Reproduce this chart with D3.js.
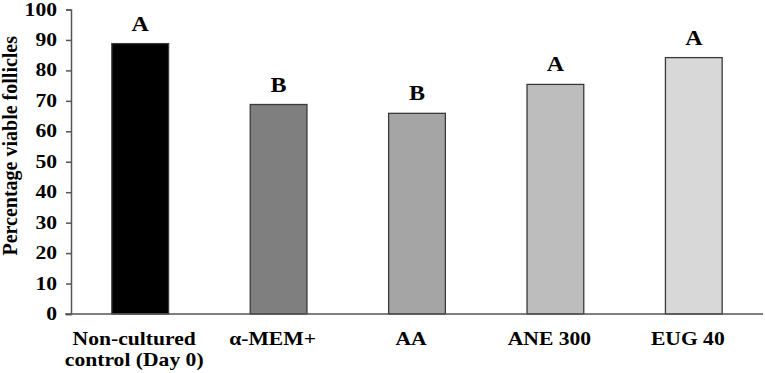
<!DOCTYPE html>
<html>
<head>
<meta charset="utf-8">
<script src="https://cdn.jsdelivr.net/npm/d3@7"></script>
<style>
  body { margin: 0; background: #fff; }
</style>
</head>
<body>
<div id="chart"></div>
<script>
const categories = ["Non-cultured\ncontrol (Day 0)", "α-MEM+", "AA", "ANE 300", "EUG 40"];
const values = [88.8, 68.8, 65.9, 75.4, 84.2];
const letters = ["A", "B", "B", "A", "A"];
const barColors = ["#000000", "#7f7f7f", "#a5a5a5", "#bdbdbd", "#d8d8d8"];
const yTicks = [0, 10, 20, 30, 40, 50, 60, 70, 80, 90, 100];

const width = 765, height = 373, margin = { top: 9.5, right: 2, bottom: 59, left: 71 };
const serif = "'Liberation Serif', 'Times New Roman', serif";
const stretch = 1.2; // text in the source is wider than it is tall

const svg = d3.select("#chart")
    .append("svg")
    .attr("width", width)
    .attr("height", height);

const x = d3.scaleBand()
    .domain(categories)
    .range([margin.left, width - margin.right])
    .paddingInner(0.59)
    .paddingOuter(0.295);

const y = d3.scaleLinear()
    .domain([0, 100])
    .range([height - margin.bottom, margin.top]);

svg.selectAll("rect.bar")
    .data(values)
    .enter()
    .append("rect")
    .attr("class", "bar")
    .attr("x", (d, i) => x(categories[i]))
    .attr("y", d => y(d))
    .attr("width", x.bandwidth())
    .attr("height", d => y(0) - y(d))
    .attr("fill", (d, i) => barColors[i])
    .attr("stroke", "#3a3a3a")
    .attr("stroke-width", 1.3);

// wide text helper: draws at (cx, cy) scaled horizontally
function wideText(cx, cy, size, anchor) {
    return svg.append("g")
        .attr("transform", `translate(${cx},${cy}) scale(${stretch},1)`)
        .append("text")
        .attr("text-anchor", anchor)
        .style("font-family", serif)
        .style("font-weight", "bold")
        .style("font-size", size + "px")
        .attr("fill", "#000");
}

values.forEach((d, i) => {
    wideText(x(categories[i]) + x.bandwidth() / 2, y(d) - 13, 20, "middle").text(letters[i]);
});

// y axis
const yAxis = svg.append("g")
    .attr("transform", `translate(${margin.left}, 0)`)
    .call(d3.axisLeft(y).tickValues(yTicks).tickSize(5).tickSizeOuter(5).tickFormat(""));
yAxis.select(".domain").attr("stroke", "#555").attr("stroke-width", 1.5);
yAxis.selectAll(".tick line").attr("stroke", "#555").attr("stroke-width", 1.5);
yTicks.forEach(t => {
    wideText(margin.left - 14, y(t) + 6, 18, "end").text(t);
});

// x axis
const xAxis = svg.append("g")
    .attr("transform", `translate(0, ${y(0)})`)
    .call(d3.axisBottom(x).tickSize(0).tickSizeOuter(0).tickFormat(""));
xAxis.select(".domain").attr("stroke", "#555").attr("stroke-width", 1.5)
    .attr("d", `M${margin.left - 6},0H${width - margin.right}`);

categories.forEach(c => {
    const t = wideText(x(c) + x.bandwidth() / 2 - 6, y(0) + 31, 18, "middle");
    c.split("\n").forEach((l, i) => {
        t.append("tspan")
            .attr("x", 0)
            .attr("dy", i === 0 ? 0 : 21)
            .text(l);
    });
});

svg.append("text")
    .attr("transform", `translate(17, ${(y(0) + y(100)) / 2 - 16}) rotate(-90)`)
    .attr("text-anchor", "middle")
    .style("font-family", serif)
    .style("font-weight", "bold")
    .style("font-size", "20px")
    .attr("fill", "#000")
    .text("Percentage viable follicles");
</script>
</body>
</html>
